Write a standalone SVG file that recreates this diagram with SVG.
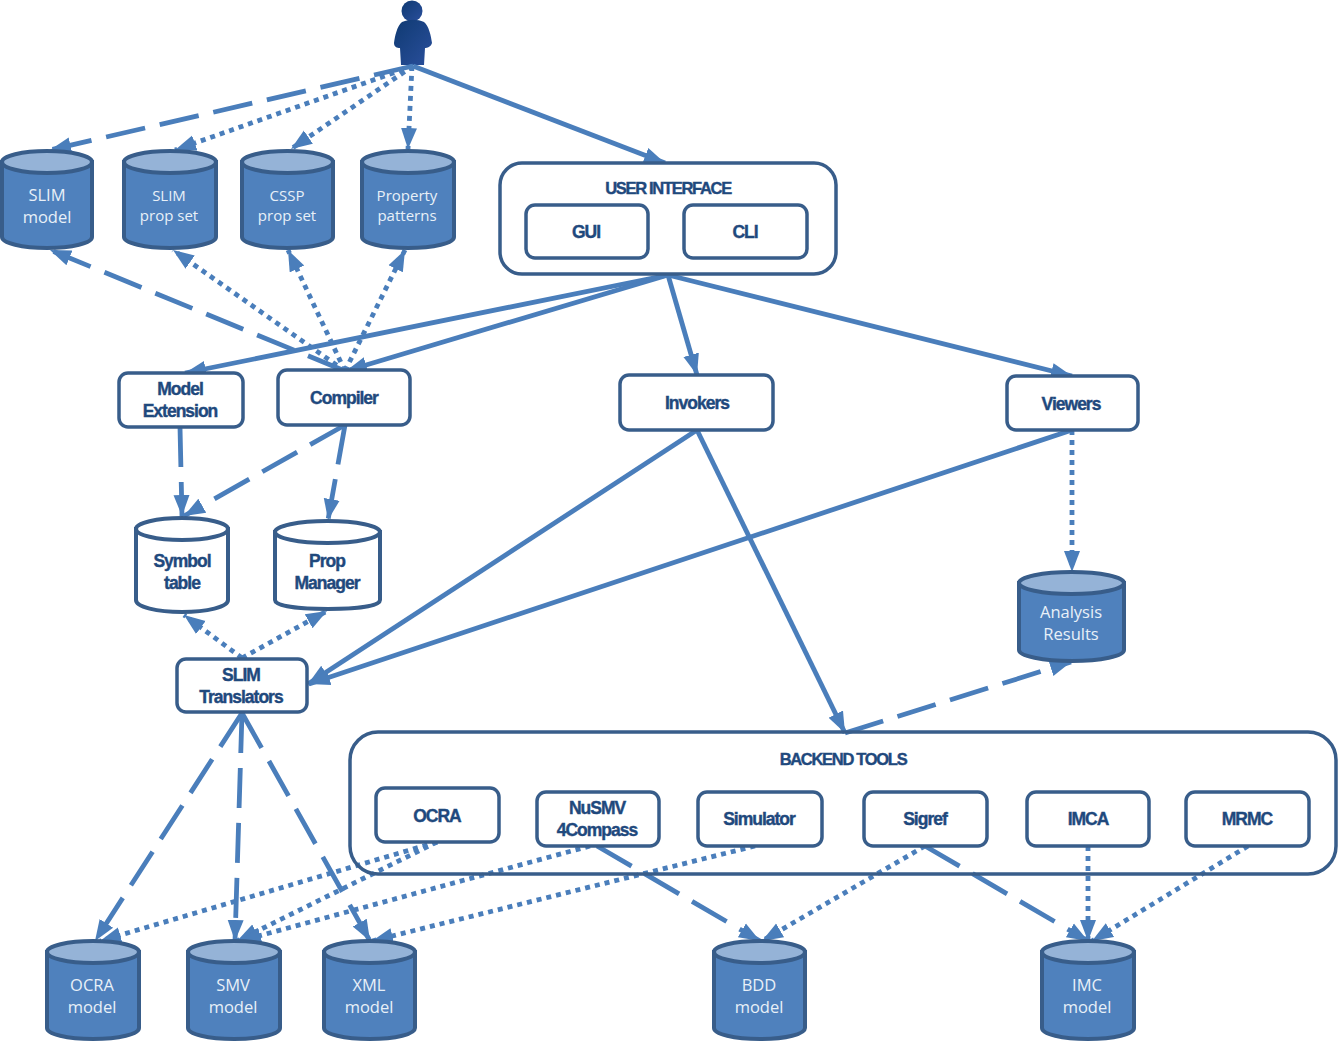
<svg xmlns="http://www.w3.org/2000/svg" width="1338" height="1042" viewBox="0 0 1338 1042">
<style>
.c{fill:none;stroke:#4a7ebb;stroke-width:4.800;marker-end:url(#a)}
.d{stroke-dasharray:40 15}
.p{stroke-dasharray:5 5}
.b{fill:#fff;stroke:#385d8a;stroke-width:3.5}
.cb{fill:#4f81bd;stroke:#385d8a;stroke-width:4}
.ct{fill:#95b3d7;stroke:#385d8a;stroke-width:4}
.wb{fill:#fff;stroke:#385d8a;stroke-width:4}
text{font-family:"Open Sans","Noto Sans",sans-serif;font-size:16.5px;text-anchor:middle}
.w{fill:#e8f0f8}
.s{font-size:15px}
.t{fill:#1f497d;font-family:"Liberation Sans",Arial,sans-serif;font-weight:bold;font-size:17.500px;letter-spacing:-1px;stroke:#1f497d;stroke-width:.4}
.h{font-size:16.500px;letter-spacing:-1.300px}
</style>
<defs>
<marker id="a" markerUnits="userSpaceOnUse" markerWidth="22" markerHeight="18" viewBox="0 0 22 18" refX="21" refY="9" orient="auto"><path d="M0 1L21 9L0 17Z" fill="#4a7ebb"/></marker>
<linearGradient id="g" x1="0" x2="1" y1="0" y2="1"><stop offset="0" stop-color="#0f3a72"/><stop offset="1" stop-color="#2a4f9c"/></linearGradient>
</defs>
<g id="user"><circle cx="412" cy="11" r="10.500" fill="url(#g)"/><path d="M402 22C410 19 417 19 424 22C429 26 431 36 432 43C431 47 427 48 425 48L424 65H401L400 48C397 48 394 47 394 43C395 36 397 26 402 22Z" fill="url(#g)"/></g>
<g id="connectors">
<path class="c d" d="M413 66L50 150"/>
<path class="c p" d="M413 66L175 150"/>
<path class="c p" d="M413 66L291 149"/>
<path class="c p" d="M412 66L408 149"/>
<path class="c" d="M413 66L665 163"/>
<path class="c" d="M668 275L185 373"/>
<path class="c" d="M668 275L346 371"/>
<path class="c" d="M668 275L697 375"/>
<path class="c" d="M668 275L1072 376"/>
<path class="c d" d="M345 371L50 250"/>
<path class="c p" d="M345 371L173 250"/>
<path class="c p" d="M345 371L288 250"/>
<path class="c p" d="M345 371L405 250"/>
<path class="c d" d="M180 427L182 516"/>
<path class="c d" d="M345 425L184 516"/>
<path class="c d" d="M345 425L328 520"/>
<path class="c p" d="M242 658L184 615"/>
<path class="c p" d="M242 658L327 611"/>
<path class="c" d="M697 430L308 684"/>
<path class="c" d="M697 430L845 733"/>
<path class="c" d="M1072 430L309 684"/>
<path class="c p" d="M1072 430V572"/>
<path class="c d" d="M845 733L1071 662"/>
<path class="c d" d="M242 713L95 941"/>
<path class="c d" d="M242 713L235 941"/>
<path class="c d" d="M242 713L370 941"/>
<path class="c p" d="M437 842L100 941"/>
<path class="c p" d="M437 842L237 941"/>
<path class="c p" d="M590 846L240 941"/>
<path class="c p" d="M755 846L372 941"/>
<path class="c d" d="M597 846L760 941"/>
<path class="c p" d="M925 846L762 941"/>
<path class="c d" d="M925 846L1088 941"/>
<path class="c p" d="M1088 846V941"/>
<path class="c p" d="M1248 846L1092 941"/>
</g>
<g id="slim-model"><path class="cb" d="M2 162V237C2 243 22 248 47 248S92 243 92 237V162Z"/><ellipse class="ct" cx="47" cy="162" rx="45" ry="11"/><text class="w" x="47" y="201">SLIM</text><text class="w" x="47" y="223">model</text></g>
<g id="slim-prop"><path class="cb" d="M124 162V237C124 243 145 248 170 248S216 243 216 237V162Z"/><ellipse class="ct" cx="170" cy="162" rx="46" ry="11"/><text class="w s" x="169" y="201">SLIM</text><text class="w s" x="169" y="221">prop set</text></g>
<g id="cssp-prop"><path class="cb" d="M242 162V237C242 243 262 248 287 248S333 243 333 237V162Z"/><ellipse class="ct" cx="287.500" cy="162" rx="45.500" ry="11"/><text class="w s" x="287" y="201">CSSP</text><text class="w s" x="287" y="221">prop set</text></g>
<g id="property-patterns"><path class="cb" d="M362 162V237C362 243 382 248 408 248S454 243 454 237V162Z"/><ellipse class="ct" cx="408" cy="162" rx="46" ry="11"/><text class="w s" x="407" y="201">Property</text><text class="w s" x="407" y="221">patterns</text></g>
<g id="user-interface"><rect class="b" x="500" y="163" width="336" height="111" rx="22"/><text class="t h" x="668" y="194">USER INTERFACE</text></g>
<g id="gui"><rect class="b" x="526" y="205" width="122" height="53" rx="9"/><text class="t" x="586" y="238">GUI</text></g>
<g id="cli"><rect class="b" x="684" y="205" width="123" height="53" rx="9"/><text class="t" x="745" y="238">CLI</text></g>
<g id="model-extension"><rect class="b" x="119" y="373" width="124" height="54" rx="9"/><text class="t" x="180" y="395">Model</text><text class="t" x="180" y="417">Extension</text></g>
<g id="compiler"><rect class="b" x="278" y="370" width="132" height="55" rx="9"/><text class="t" x="344" y="404">Compiler</text></g>
<g id="invokers"><rect class="b" x="620" y="375" width="153" height="55" rx="9"/><text class="t" x="697" y="409">Invokers</text></g>
<g id="viewers"><rect class="b" x="1007" y="376" width="131" height="54" rx="9"/><text class="t" x="1071" y="410">Viewers</text></g>
<g id="symbol-table"><path class="wb" d="M136 529V600C136 607 157 612 182 612S228 607 228 600V529Z"/><ellipse class="wb" cx="182" cy="529" rx="46" ry="11"/><text class="t" x="182" y="567">Symbol</text><text class="t" x="182" y="589">table</text></g>
<g id="prop-manager"><path class="wb" d="M275 532V600C275 606 299 609 328 609S380 606 380 600V532Z"/><ellipse class="wb" cx="327.500" cy="532" rx="52.500" ry="11"/><text class="t" x="327" y="567">Prop</text><text class="t" x="327" y="589">Manager</text></g>
<g id="analysis-results"><path class="cb" d="M1019 583V650C1019 656 1043 661 1072 661S1124 656 1124 650V583Z"/><ellipse class="ct" cx="1071.500" cy="583" rx="52.500" ry="11"/><text class="w" x="1071" y="618">Analysis</text><text class="w" x="1071" y="640">Results</text></g>
<g id="slim-translators"><rect class="b" x="177" y="659" width="130" height="53" rx="9"/><text class="t" x="241" y="681">SLIM</text><text class="t" x="241" y="703">Translators</text></g>
<g id="backend-tools"><rect class="b" x="350" y="732" width="986" height="142" rx="28" fill-opacity="0"/><text class="t h" x="843" y="765">BACKEND TOOLS</text></g>
<g id="ocra"><rect class="b" x="376" y="788" width="123" height="54" rx="9"/><text class="t" x="437" y="822">OCRA</text></g>
<g id="nusmv"><rect class="b" x="537" y="792" width="122" height="54" rx="9"/><text class="t" x="597" y="814">NuSMV</text><text class="t" x="597" y="836">4Compass</text></g>
<g id="simulator"><rect class="b" x="698" y="792" width="124" height="54" rx="9"/><text class="t" x="759" y="825">Simulator</text></g>
<g id="sigref"><rect class="b" x="864" y="792" width="123" height="54" rx="9"/><text class="t" x="925" y="825">Sigref</text></g>
<g id="imca"><rect class="b" x="1027" y="792" width="122" height="54" rx="9"/><text class="t" x="1088" y="825">IMCA</text></g>
<g id="mrmc"><rect class="b" x="1186" y="792" width="123" height="54" rx="9"/><text class="t" x="1247" y="825">MRMC</text></g>
<g id="ocra-model"><path class="cb" d="M47 952V1028C47 1034 67 1039 93 1039S139 1034 139 1028V952Z"/><ellipse class="ct" cx="93" cy="952" rx="46" ry="11"/><text class="w" x="92" y="991">OCRA</text><text class="w" x="92" y="1013">model</text></g>
<g id="smv-model"><path class="cb" d="M188 952V1028C188 1034 208 1039 234 1039S280 1034 280 1028V952Z"/><ellipse class="ct" cx="234" cy="952" rx="46" ry="11"/><text class="w" x="233" y="991">SMV</text><text class="w" x="233" y="1013">model</text></g>
<g id="xml-model"><path class="cb" d="M324 952V1028C324 1034 344 1039 370 1039S415 1034 415 1028V952Z"/><ellipse class="ct" cx="369.500" cy="952" rx="45.500" ry="11"/><text class="w" x="369" y="991">XML</text><text class="w" x="369" y="1013">model</text></g>
<g id="bdd-model"><path class="cb" d="M714 952V1028C714 1034 734 1039 760 1039S805 1034 805 1028V952Z"/><ellipse class="ct" cx="759.500" cy="952" rx="45.500" ry="11"/><text class="w" x="759" y="991">BDD</text><text class="w" x="759" y="1013">model</text></g>
<g id="imc-model"><path class="cb" d="M1042 952V1028C1042 1034 1062 1039 1088 1039S1134 1034 1134 1028V952Z"/><ellipse class="ct" cx="1088" cy="952" rx="46" ry="11"/><text class="w" x="1087" y="991">IMC</text><text class="w" x="1087" y="1013">model</text></g>
</svg>
